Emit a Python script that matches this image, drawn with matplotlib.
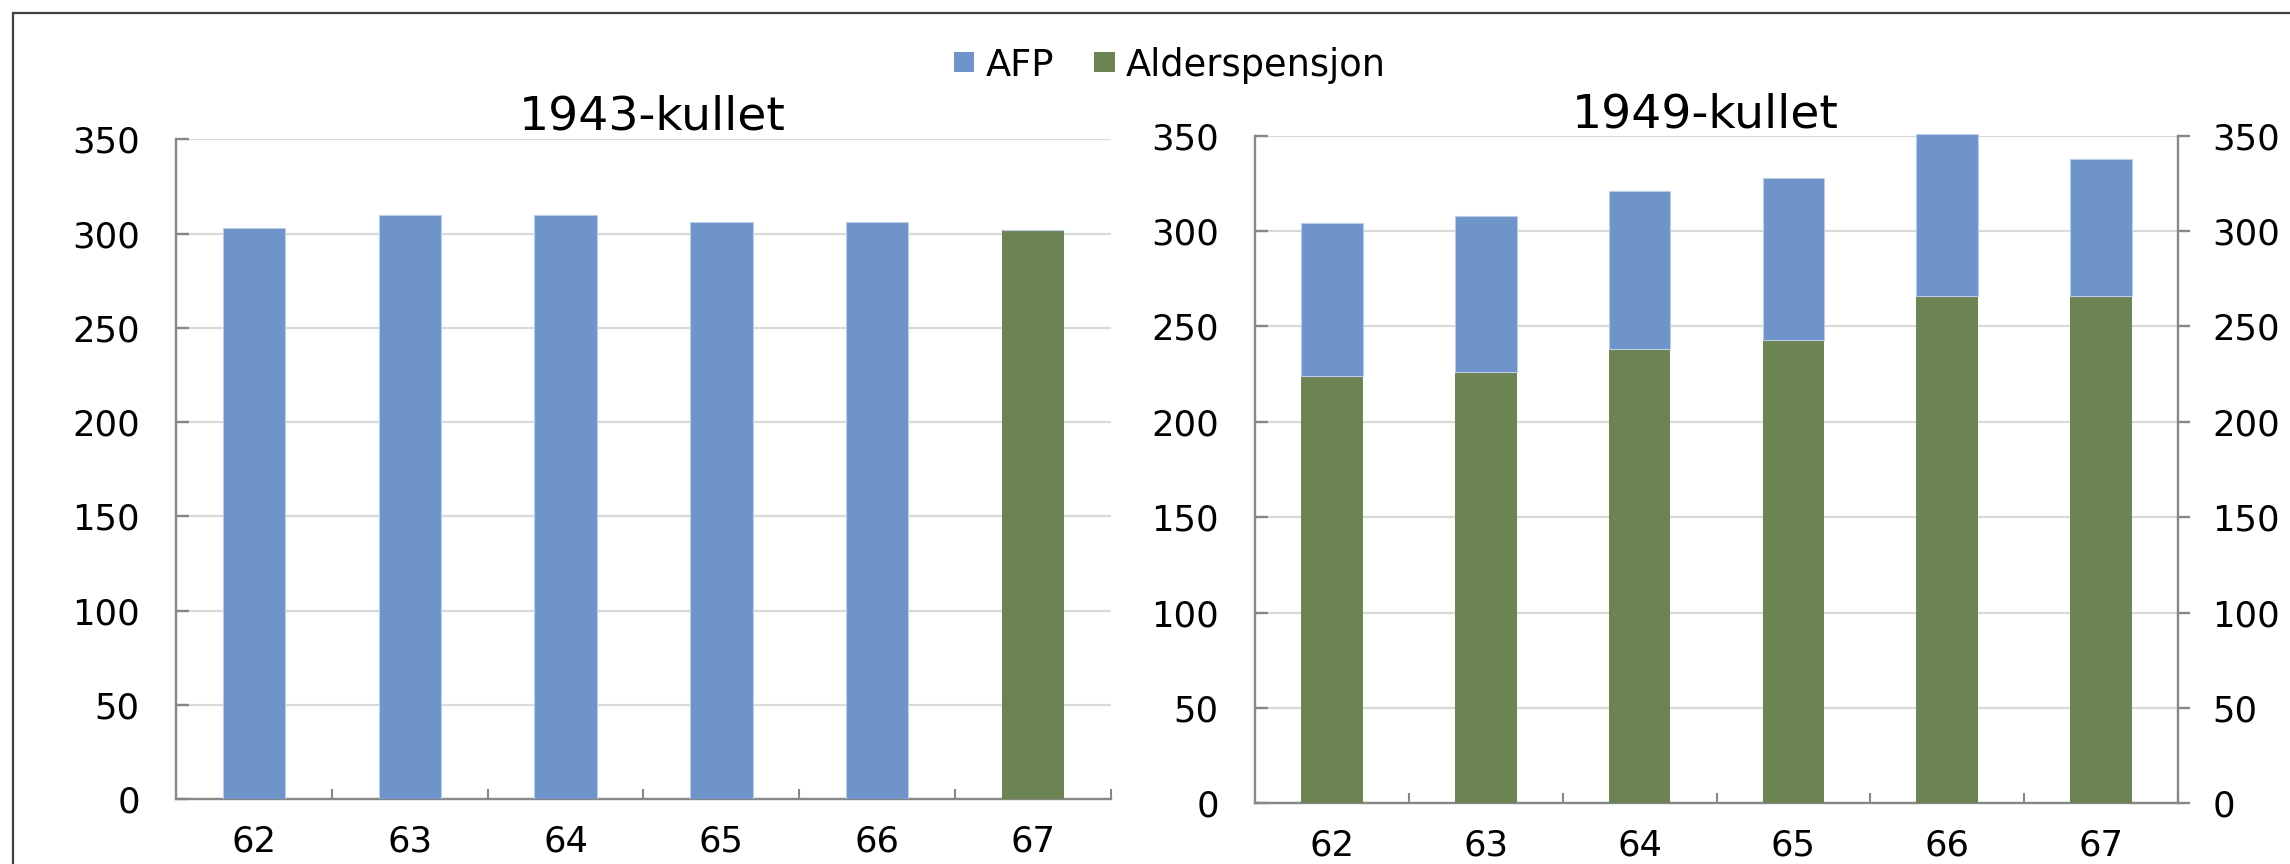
import matplotlib
matplotlib.use("Agg")
import matplotlib.pyplot as plt
from matplotlib.patches import Patch, Rectangle
from matplotlib.ticker import FixedLocator
import numpy as np

# ---- data ----
ages = ['62', '63', '64', '65', '66', '67']
afp_1943 = [303, 310, 310, 306, 306, 0]
alder_1943 = [0, 0, 0, 0, 0, 302]
alder_1949 = [224, 226, 238, 243, 266, 266]
afp_1949 = [80, 82, 83, 85, 85, 72]
yticks = [0, 50, 100, 150, 200, 250, 300, 350]
titles = ['1943-kullet', '1949-kullet']
series_names = ['AFP', 'Alderspensjon']

# ---- style ----
BLUE = '#6E94CA'
GREEN = '#6C8454'
GRID = '#D9D9D9'
AXC = '#878787'
W, H = 2290, 864
plt.rcParams['font.family'] = ['DejaVu Sans']

fig = plt.figure(figsize=(W / 100, H / 100), dpi=100)

def fx(px):
    return px / W

def fy(py):
    return 1 - py / H

ax1 = fig.add_axes([fx(176), fy(799), fx(1111 - 176), (799 - 139.5) / H])
ax2 = fig.add_axes([fx(1255), fy(803.3), fx(2178 - 1255), (803.3 - 135.7) / H])

x = np.arange(len(ages))
bw = 0.40
TICKFS = 25.5

def style(ax, right_axis=False):
    ax.set_xlim(-0.5, len(ages) - 0.5)
    ax.set_ylim(0, 350)
    ax.set_yticks(yticks)
    ax.set_yticklabels([str(v) for v in yticks])
    ax.set_xticks(x)
    ax.set_xticklabels(ages)
    ax.xaxis.set_minor_locator(FixedLocator(np.arange(0.5, len(ages), 1.0)))
    ax.tick_params(axis='x', which='major', length=0, pad=18.5, labelsize=TICKFS)
    ax.tick_params(axis='x', which='minor', direction='in', length=7, width=1.5, color=AXC)
    ax.tick_params(axis='y', which='major', direction='in', length=9.5, width=1.7,
                   color=AXC, labelsize=TICKFS, pad=26)
    ax.grid(axis='y', color=GRID, linewidth=1.6)
    ax.set_axisbelow(True)
    for s in ['top', 'right']:
        ax.spines[s].set_visible(False)
    for s in ['left', 'bottom']:
        ax.spines[s].set_color(AXC)
        ax.spines[s].set_linewidth(1.7)
    if right_axis:
        axr = ax.twinx()
        axr.set_ylim(0, 350)
        axr.set_yticks(yticks)
        axr.set_yticklabels([str(v) for v in yticks])
        axr.tick_params(axis='y', direction='out', length=8.6, width=1.7,
                        color=AXC, labelsize=TICKFS, pad=16)
        for s in ['top', 'left', 'bottom']:
            axr.spines[s].set_visible(False)
        axr.spines['right'].set_color(AXC)
        axr.spines['right'].set_linewidth(1.7)

# Left panel
ax1.bar(x, alder_1943, bw, color=GREEN, edgecolor='none', zorder=3)
ax1.bar(x, afp_1943, bw, bottom=alder_1943, color=BLUE, edgecolor='#B9CDE8',
        linewidth=0.8, zorder=3)
style(ax1)

# Right panel
ax2.bar(x, alder_1949, bw, color=GREEN, edgecolor='none', zorder=3, clip_on=False)
ax2.bar(x, afp_1949, bw, bottom=alder_1949, color=BLUE, edgecolor='#B9CDE8',
        linewidth=0.8, zorder=3, clip_on=False)
style(ax2, right_axis=True)

# Titles
fig.text(fx(652), fy(129), titles[0], ha='center', va='baseline', fontsize=34)
fig.text(fx(1705), fy(128), titles[1], ha='center', va='baseline', fontsize=34)

# Legend
handles = [Patch(facecolor=BLUE, edgecolor='none'), Patch(facecolor=GREEN, edgecolor='none')]
fig.legend(handles, series_names, loc='center', bbox_to_anchor=(fx(1170), fy(65)),
           ncol=2, frameon=False, fontsize=26.5, handlelength=0.55, handleheight=0.45,
           handletextpad=0.3, columnspacing=1.1, borderaxespad=0, borderpad=0)

# Outer frame (cropped at right and bottom)
fig.add_artist(Rectangle((fx(13), -0.1), 1.2, fy(13) + 0.1, transform=fig.transFigure,
                         fill=False, edgecolor='#404040', linewidth=1.6))

fig.savefig('out.png', dpi=100)
